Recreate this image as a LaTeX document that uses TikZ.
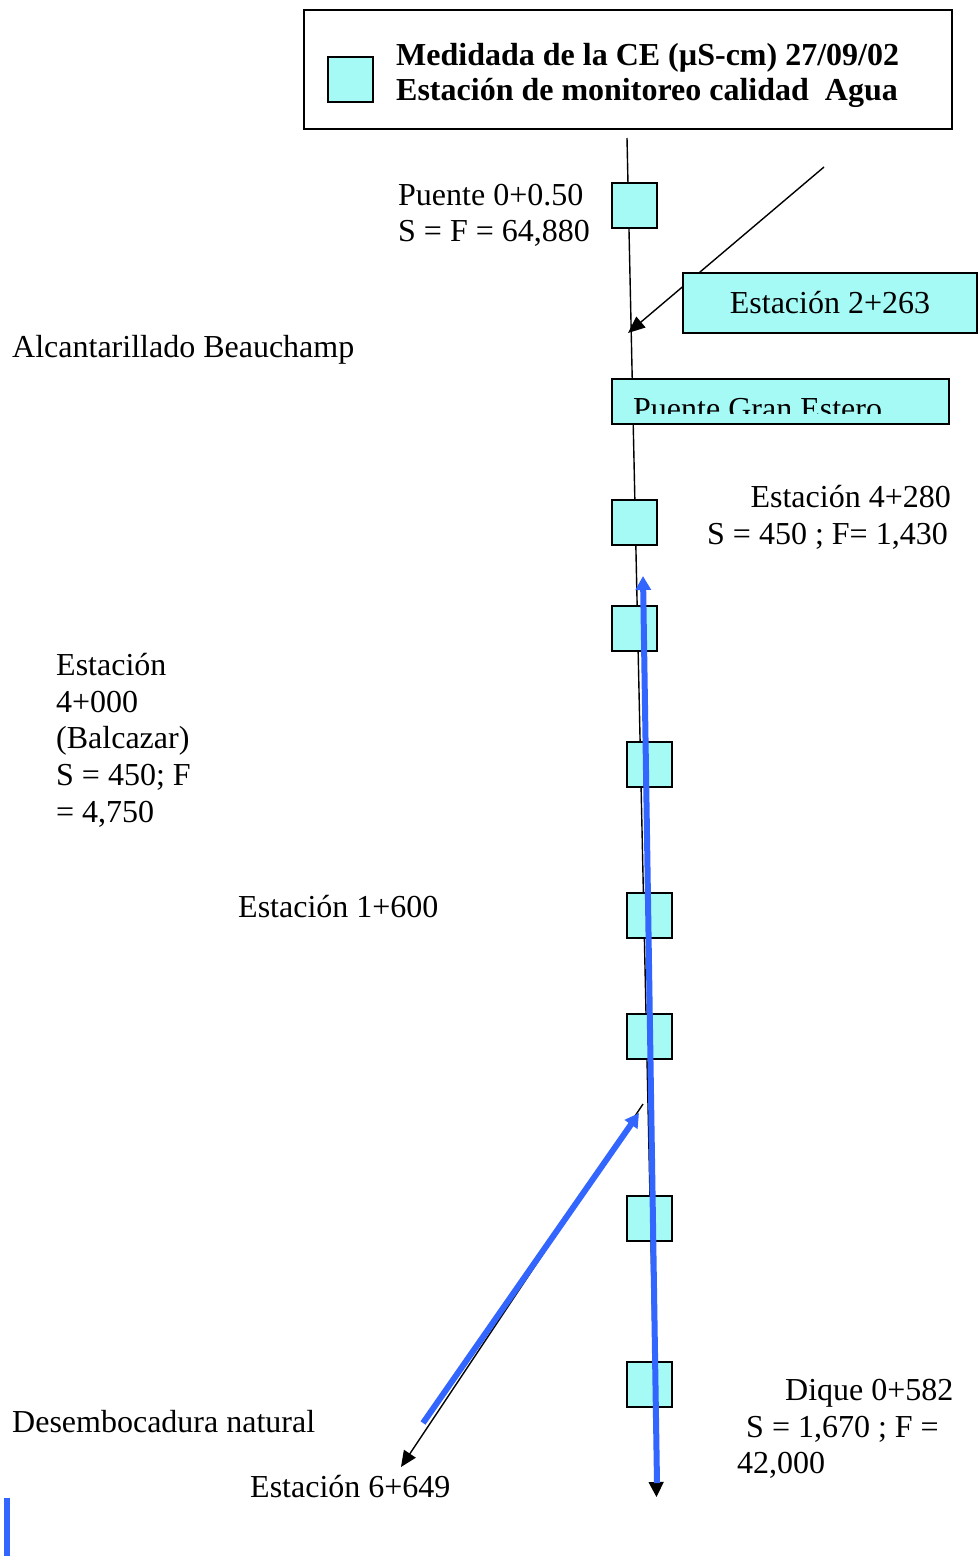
\documentclass[tikz,border=0pt]{standalone}
\usepackage{fontspec}
\setmainfont{Liberation Serif}
\usetikzlibrary{arrows.meta}
\definecolor{stcyan}{RGB}{166,250,246}
\definecolor{flowblue}{RGB}{51,102,255}
\begin{document}
\begin{tikzpicture}[x=1pt,y=-1pt,
  sq/.style={draw=black,fill=stcyan,line width=1.8pt,minimum width=45pt,minimum height=45pt,inner sep=0pt},
  cbox/.style={draw=black,fill=stcyan,line width=1.8pt,inner sep=0pt},
  lbl/.style={inner sep=0pt,font=\fontsize{32}{36.8}\selectfont},
  blbl/.style={inner sep=0pt,font=\fontsize{32}{36.8}\selectfont\bfseries},
  thin/.style={draw=black,line width=1.4pt},
  bluearrow/.style={draw=flowblue,line width=6pt},
  blacktip/.style={-{Triangle[length=15pt,width=15pt]}},
  bluetip/.style={-{Triangle[length=14pt,width=15pt,color=flowblue]}}]
\useasboundingbox (0,0) rectangle (978,1556);
\fill[white] (0,0) rectangle (978,1556);

% legend
\node[draw=black,fill=white,line width=1.8pt,minimum width=648pt,minimum height=119pt,inner sep=0pt] (legend) at (628,69.5) {};
\node[sq] (legsq) at (350.5,79.5) {};
\node[blbl,anchor=base west] (leg1) at (396,65) {Medidada de la CE (µS-cm) 27/09/02};
\node[blbl,anchor=base west] (leg2) at (396,100) {Estación de monitoreo calidad\ \ Agua};

% main channel line
\coordinate (ltop) at (627,138);
\coordinate (lbot) at (656.5,1497);
\draw[thin,blacktip] (ltop) -- (lbot);

% arrow to station 2+263
\coordinate (a263) at (824,167);
\coordinate (j263) at (628,333);
\draw[thin,-{Triangle[length=17pt,width=14pt]}] (a263) -- (j263);

% diagonal branch
\coordinate (dtop) at (643,1104);
\coordinate (dbot) at (401,1467);
\draw[thin,-{Triangle[length=16pt,width=14pt]}] (dtop) -- (dbot);

% boxes
\node[cbox,minimum width=294pt,minimum height=60pt] (b263) at (830,303) {};
\node[lbl,anchor=base] (t263) at (830,313) {Estación 2+263};
\node[cbox,minimum width=337pt,minimum height=45pt] (bpge) at (780.5,401.5) {};
\begin{scope}
\clip (612,379) rectangle (949,413);
\node[lbl,anchor=base west] (tpge) at (633,419) {Puente Gran Estero};
\end{scope}

% station squares
\node[sq] (s1) at (634.5,205.5) {};
\node[sq] (s2) at (634.5,522.5) {};
\node[sq] (s3) at (634.5,628.5) {};
\node[sq] (s4) at (649.5,764.5) {};
\node[sq] (s5) at (649.5,915.5) {};
\node[sq] (s6) at (649.5,1036.5) {};
\node[sq] (s7) at (649.5,1218.5) {};
\node[sq] (s8) at (649.5,1384.5) {};

% blue flow arrows
\coordinate (bbot) at (657,1483);
\coordinate (btop) at (643,576);
\draw[bluearrow,bluetip] (bbot) -- (btop);
\coordinate (dbstart) at (423,1423);
\coordinate (dbend) at (639,1113);
\draw[bluearrow,bluetip] (dbstart) -- (dbend);
\fill[flowblue] (4,1498) rectangle (10,1556);

% labels
\node[lbl,anchor=base west] (p1) at (398,205) {Puente 0+0.50};
\node[lbl,anchor=base west] (p2) at (398,241) {S = F = 64,880};
\node[lbl,anchor=base west] (alc) at (12,357) {Alcantarillado Beauchamp};
\node[lbl,anchor=base east] (e1) at (951,507) {Estación 4+280};
\node[lbl,anchor=base west] (e2) at (707,544) {S = 450 ; F= 1,430};
\node[lbl,anchor=base west] (bal1) at (56,675) {Estación};
\node[lbl,anchor=base west] (bal2) at (56,712) {4+000};
\node[lbl,anchor=base west] (bal3) at (56,748) {(Balcazar)};
\node[lbl,anchor=base west] (bal4) at (56,785) {S = 450; F};
\node[lbl,anchor=base west] (bal5) at (56,822) {= 4,750};
\node[lbl,anchor=base west] (e1600) at (238,917) {Estación 1+600};
\node[lbl,anchor=base west] (des) at (12,1432) {Desembocadura natural};
\node[lbl,anchor=base west] (e6649) at (250,1497) {Estación 6+649};
\node[lbl,anchor=base west] (dq1) at (785,1400) {Dique 0+582};
\node[lbl,anchor=base west] (dq2) at (746,1437) {S = 1,670 ; F =};
\node[lbl,anchor=base west] (dq3) at (737,1473) {42,000};
\end{tikzpicture}
\end{document}
